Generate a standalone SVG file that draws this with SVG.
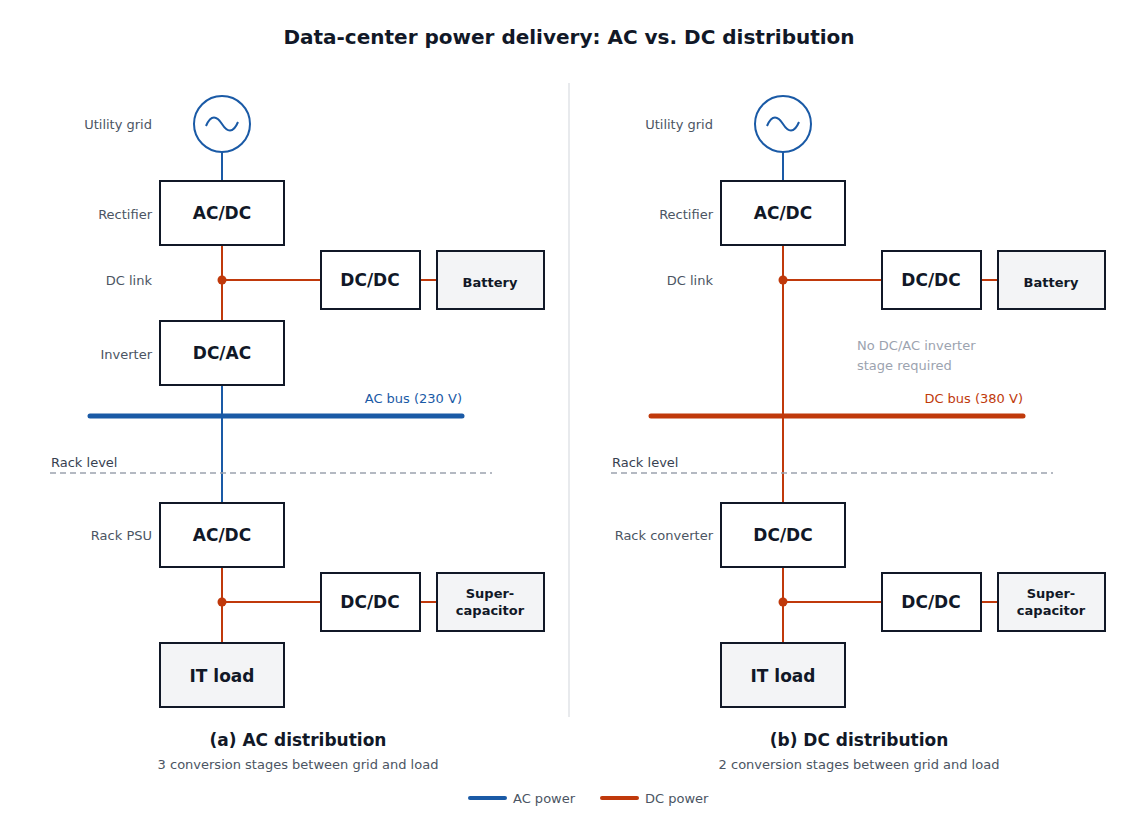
<svg xmlns="http://www.w3.org/2000/svg" width="1138" height="833" viewBox="0 0 1138 833">
<style>
text{font-family:"DejaVu Sans","Liberation Sans",sans-serif}
.box{fill:#fff;stroke:#111827;stroke-width:2}
.store{fill:#f3f4f6;stroke:#111827;stroke-width:2}
.big{font-size:17px;font-weight:bold;fill:#111827;text-anchor:middle}
.mid{font-size:13px;font-weight:bold;fill:#111827;text-anchor:middle}
.lbl{font-size:13px;fill:#4b5563;text-anchor:end}
.ac{stroke:#1a5aa6;stroke-width:2;fill:none}
.dc{stroke:#c0390b;stroke-width:2;fill:none}
.dash{stroke:#9ca3af;stroke-width:1.5;stroke-dasharray:6 4}
</style>
<rect width="1138" height="833" fill="#fff"/>
<text x="569" y="44" font-size="20" font-weight="bold" fill="#111827" text-anchor="middle">Data-center power delivery: AC vs. DC distribution</text>
<line x1="569" y1="83" x2="569" y2="717" stroke="#d1d5db" stroke-width="1"/>
<g id="connectors">
<line class="ac" x1="222" y1="152" x2="222" y2="181"/>
<line class="dc" x1="222" y1="245" x2="222" y2="321"/>
<line class="dc" x1="222" y1="280" x2="321" y2="280"/>
<line class="dc" x1="420" y1="280" x2="437" y2="280"/>
<line class="ac" x1="222" y1="385" x2="222" y2="503"/>
<line class="dc" x1="222" y1="567" x2="222" y2="643"/>
<line class="dc" x1="222" y1="602" x2="321" y2="602"/>
<line class="dc" x1="420" y1="602" x2="437" y2="602"/>
<circle cx="222" cy="280" r="4.5" fill="#c0390b"/>
<circle cx="222" cy="602" r="4.5" fill="#c0390b"/>
<line x1="90" y1="416" x2="462" y2="416" stroke="#1a5aa6" stroke-width="5" stroke-linecap="round"/>
<line class="ac" x1="783" y1="152" x2="783" y2="181"/>
<line class="dc" x1="783" y1="245" x2="783" y2="503"/>
<line class="dc" x1="783" y1="280" x2="882" y2="280"/>
<line class="dc" x1="981" y1="280" x2="998" y2="280"/>
<line class="dc" x1="783" y1="567" x2="783" y2="643"/>
<line class="dc" x1="783" y1="602" x2="882" y2="602"/>
<line class="dc" x1="981" y1="602" x2="998" y2="602"/>
<circle cx="783" cy="280" r="4.5" fill="#c0390b"/>
<circle cx="783" cy="602" r="4.5" fill="#c0390b"/>
<line x1="651" y1="416" x2="1023" y2="416" stroke="#c0390b" stroke-width="5" stroke-linecap="round"/>
</g>
<text x="462" y="403" font-size="13" fill="#1a5aa6" text-anchor="end">AC bus (230 V)</text>
<text x="1023" y="403" font-size="13" fill="#c0390b" text-anchor="end">DC bus (380 V)</text>
<line class="dash" x1="50" y1="473" x2="492" y2="473"/>
<text x="51" y="467" font-size="13" fill="#374151">Rack level</text>
<line class="dash" x1="611" y1="473" x2="1053" y2="473"/>
<text x="612" y="467" font-size="13" fill="#374151">Rack level</text>
<text x="857" y="350" font-size="13" fill="#9ca3af">No DC/AC inverter</text>
<text x="857" y="370" font-size="13" fill="#9ca3af">stage required</text>

<g id="grid-a"><circle cx="222" cy="124" r="28" fill="#fff" stroke="#1a5aa6" stroke-width="2"/><path class="ac" d="M206 126 C211 114,217 116,222 124 S233 134,238 122"/><text class="lbl" x="152" y="129">Utility grid</text></g>
<g id="rect-a"><rect class="box" x="160" y="181" width="124" height="64"/><text class="big" x="222" y="219">AC/DC</text><text class="lbl" x="152" y="219">Rectifier</text></g>
<text class="lbl" x="152" y="285">DC link</text>
<g id="dcdc1-a"><rect class="box" x="321" y="251" width="99" height="58"/><text class="big" x="370" y="286" font-size="16">DC/DC</text></g>
<g id="batt-a"><rect class="store" x="437" y="251" width="107" height="58"/><text class="mid" x="490" y="287">Battery</text></g>
<g id="inv-a"><rect class="box" x="160" y="321" width="124" height="64"/><text class="big" x="222" y="359">DC/AC</text><text class="lbl" x="152" y="359">Inverter</text></g>
<g id="psu-a"><rect class="box" x="160" y="503" width="124" height="64"/><text class="big" x="222" y="541">AC/DC</text><text class="lbl" x="152" y="540">Rack PSU</text></g>
<g id="dcdc2-a"><rect class="box" x="321" y="573" width="99" height="58"/><text class="big" x="370" y="608" font-size="16">DC/DC</text></g>
<g id="cap-a"><rect class="store" x="437" y="573" width="107" height="58"/><text class="mid" x="490" y="598">Super-</text><text class="mid" x="490" y="615">capacitor</text></g>
<g id="load-a"><rect class="store" x="160" y="643" width="124" height="64"/><text class="big" x="222" y="682">IT load</text></g>

<g id="grid-b"><circle cx="783" cy="124" r="28" fill="#fff" stroke="#1a5aa6" stroke-width="2"/><path class="ac" d="M767 126 C772 114,778 116,783 124 S794 134,799 122"/><text class="lbl" x="713" y="129">Utility grid</text></g>
<g id="rect-b"><rect class="box" x="721" y="181" width="124" height="64"/><text class="big" x="783" y="219">AC/DC</text><text class="lbl" x="713" y="219">Rectifier</text></g>
<text class="lbl" x="713" y="285">DC link</text>
<g id="dcdc1-b"><rect class="box" x="882" y="251" width="99" height="58"/><text class="big" x="931" y="286" font-size="16">DC/DC</text></g>
<g id="batt-b"><rect class="store" x="998" y="251" width="107" height="58"/><text class="mid" x="1051" y="287">Battery</text></g>
<g id="conv-b"><rect class="box" x="721" y="503" width="124" height="64"/><text class="big" x="783" y="541">DC/DC</text><text class="lbl" x="713" y="540">Rack converter</text></g>
<g id="dcdc2-b"><rect class="box" x="882" y="573" width="99" height="58"/><text class="big" x="931" y="608" font-size="16">DC/DC</text></g>
<g id="cap-b"><rect class="store" x="998" y="573" width="107" height="58"/><text class="mid" x="1051" y="598">Super-</text><text class="mid" x="1051" y="615">capacitor</text></g>
<g id="load-b"><rect class="store" x="721" y="643" width="124" height="64"/><text class="big" x="783" y="682">IT load</text></g>

<text class="big" x="298" y="746">(a) AC distribution</text>
<text x="298" y="769" font-size="13" fill="#4b5563" text-anchor="middle">3 conversion stages between grid and load</text>
<text class="big" x="859" y="746">(b) DC distribution</text>
<text x="859" y="769" font-size="13" fill="#4b5563" text-anchor="middle">2 conversion stages between grid and load</text>
<g id="legend">
<line x1="470" y1="798" x2="505" y2="798" stroke="#1a5aa6" stroke-width="4" stroke-linecap="round"/>
<text x="513" y="803" font-size="13" fill="#4b5563">AC power</text>
<line x1="602" y1="798" x2="637" y2="798" stroke="#c0390b" stroke-width="4" stroke-linecap="round"/>
<text x="645" y="803" font-size="13" fill="#4b5563">DC power</text>
</g>
</svg>
